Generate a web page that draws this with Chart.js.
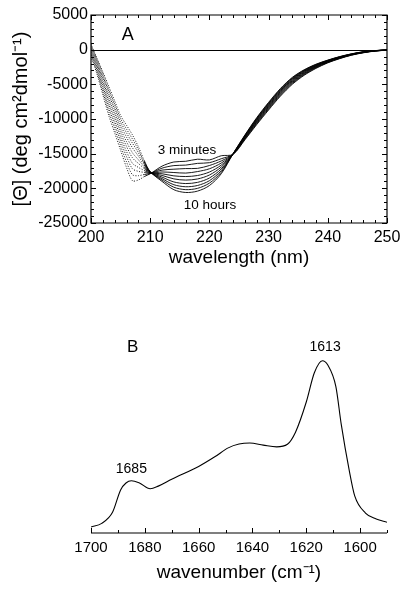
<!DOCTYPE html>
<html lang="en">
<head>
    <meta charset="UTF-8">
    <title>CD and IR spectra</title>
    <script src="https://cdn.jsdelivr.net/npm/chart.js"></script>
    <style>
        body { margin: 0; background: #fff; }
        #wrap { position: relative; width: 407px; height: 589px; }
        #chartA { position: absolute; left: 0; top: 0; }
        #chartB { position: absolute; left: 0; top: 290px; }
    </style>
</head>
<body>
<div id="wrap">
    <canvas id="chartA" width="407" height="290"></canvas>
    <canvas id="chartB" width="407" height="299"></canvas>
</div>
<script>
    // --- panel A: CD spectra, 3 minutes -> 10 hours ---
    const wavelengths = [200, 201, 202, 203, 204, 205, 206, 207, 208, 209, 210, 212, 214, 216, 218, 220, 222, 224,
        226, 228, 230, 232, 234, 236, 238, 240, 242, 244, 246, 248, 250];

    const cd3min = [-1000, -3500, -6500, -9500, -12000, -14500, -17000, -18900, -18800, -18300, -17900, -16800, -16200, -16100, -15800, -15900, -15300, -15100,
        -13000, -10800, -8700, -6700, -5000, -3700, -2700, -1900, -1300, -800, -450, -200, -80];
    const cdT1 = [-770, -3200, -6070, -8950, -11400, -13850, -16200, -18040, -18180, -18000, -17860, -17090, -16720, -16650, -16400, -16300, -15730, -15090,
        -12910, -10670, -8560, -6560, -4870, -3600, -2620, -1850, -1260, -770, -430, -190, -75];
    const cdT2 = [-530, -2900, -5640, -8410, -10800, -13200, -15410, -17180, -17550, -17700, -17820, -17370, -17240, -17150, -17120, -16710, -16050, -15070,
        -12820, -10540, -8410, -6410, -4740, -3490, -2540, -1800, -1220, -750, -410, -180, -67];
    const cdT3 = [-316, -2630, -5250, -7900, -10250, -12600, -14680, -16390, -16980, -17430, -17790, -17640, -17720, -17800, -17580, -17180, -16350, -15060,
        -12730, -10420, -8280, -6280, -4620, -3400, -2470, -1750, -1190, -720, -390, -170, -60];
    const cdT4 = [-100, -2350, -4850, -7400, -9700, -12000, -13950, -15600, -16400, -17150, -17750, -17900, -18200, -18300, -18150, -17650, -16650, -15050,
        -12650, -10300, -8150, -6150, -4500, -3300, -2400, -1700, -1150, -700, -375, -165, -55];
    const cdT5 = [100, -2100, -4490, -6940, -9190, -11450, -13280, -14870, -15870, -16900, -17720, -18140, -18640, -18810, -18650, -18080, -16930, -15040,
        -12570, -10190, -8030, -6030, -4390, -3210, -2330, -1660, -1120, -680, -360, -157, -49];
    const cdT6 = [300, -1840, -4120, -6480, -8690, -10900, -12610, -14150, -15340, -16640, -17680, -18380, -19080, -19310, -19140, -18510, -17200, -15030,
        -12500, -10080, -7910, -5910, -4280, -3120, -2270, -1610, -1080, -660, -340, -150, -44];
    const cdT7 = [480, -1610, -3790, -6060, -8230, -10400, -12000, -13490, -14860, -16410, -17650, -18600, -19480, -19770, -19590, -18900, -17450, -15020,
        -12430, -9980, -7800, -5800, -4180, -3040, -2210, -1570, -1050, -640, -330, -143, -39];
    const cdT8 = [640, -1410, -3500, -5680, -7810, -9950, -11450, -12890, -14430, -16210, -17630, -18800, -19840, -20190, -20000, -19250, -17680, -15010,
        -12360, -9890, -7700, -5700, -4090, -2970, -2150, -1540, -1030, -620, -310, -136, -34];
    const cd10h = [800, -1200, -3200, -5300, -7400, -9500, -10900, -12300, -14000, -16000, -17600, -19000, -20200, -20600, -20400, -19600, -17900, -15000,
        -12300, -9800, -7600, -5600, -4000, -2900, -2100, -1500, -1000, -600, -300, -130, -30];
    const cdCurves = [cd3min, cdT1, cdT2, cdT3, cdT4, cdT5, cdT6, cdT7, cdT8, cd10h];

    const xTicksA = [200, 210, 220, 230, 240, 250];
    const yTicksA = [-25000, -20000, -15000, -10000, -5000, 0, 5000];

    // --- panel B: IR spectrum ---
    const wavenumbers = [1700, 1696, 1692, 1689, 1687, 1685, 1682, 1678, 1675, 1670, 1660, 1654, 1649, 1645, 1641,
        1636, 1631, 1627, 1624, 1620, 1617, 1614, 1612, 1609, 1607, 1604, 1602, 1598, 1594, 1590];
    const absorbance = [0.035, 0.056, 0.12, 0.25, 0.29, 0.303, 0.29, 0.257, 0.272, 0.312, 0.386, 0.442, 0.494, 0.516, 0.522,
        0.51, 0.5, 0.515, 0.585, 0.76, 0.93, 1.0, 0.975, 0.85, 0.63, 0.36, 0.215, 0.116, 0.081, 0.062];
    const xTicksB = [1700, 1680, 1660, 1640, 1620, 1600];

    Chart.defaults.font.family = "'Liberation Sans', Arial, sans-serif";
    Chart.defaults.color = '#000';

    function steps(from, to, step) {
        const out = [];
        for (let v = from; v <= to + 1e-9; v += step) out.push(v);
        return out;
    }

    // inward tick marks + frame, drawn through the chart scales
    const frameTicks = {
        id: 'frameTicks',
        afterDraw(chart, args, o) {
            const ctx = chart.ctx, a = chart.chartArea;
            const xs = chart.scales.x, ys = chart.scales.y;
            ctx.save();
            ctx.strokeStyle = '#000';
            ctx.lineWidth = 1.2;
            ctx.beginPath();
            if (o.box) {
                ctx.rect(a.left, a.top, a.right - a.left, a.bottom - a.top);
            } else {
                ctx.moveTo(a.left, a.bottom);
                ctx.lineTo(a.right, a.bottom);
            }
            ctx.stroke();
            ctx.lineWidth = 1;
            ctx.beginPath();
            (o.xMinor || []).forEach(v => {
                const px = Math.round(xs.getPixelForValue(v)) + 0.5;
                const len = (o.xMajor.includes(v) ? 5 : 3);
                ctx.moveTo(px, a.bottom);
                ctx.lineTo(px, a.bottom - len);
                if (o.box) {
                    ctx.moveTo(px, a.top);
                    ctx.lineTo(px, a.top + len);
                }
            });
            (o.yMinor || []).forEach(v => {
                const py = Math.round(ys.getPixelForValue(v)) + 0.5;
                const len = (o.yMajor.includes(v) ? 5 : 3);
                ctx.moveTo(a.left, py);
                ctx.lineTo(a.left + len, py);
                ctx.moveTo(a.right, py);
                ctx.lineTo(a.right - len, py);
            });
            if (o.zeroLine) {
                const py = Math.round(ys.getPixelForValue(0)) + 0.5;
                ctx.moveTo(a.left, py);
                ctx.lineTo(a.right, py);
            }
            ctx.stroke();
            ctx.restore();
        }
    };

    // text placed in data units
    const notes = {
        id: 'notes',
        afterDraw(chart, args, o) {
            const ctx = chart.ctx;
            ctx.save();
            ctx.fillStyle = '#000';
            ctx.textAlign = 'center';
            ctx.textBaseline = 'middle';
            (o.items || []).forEach(it => {
                ctx.font = it.size + "px 'Liberation Sans', Arial, sans-serif";
                ctx.fillText(it.text, chart.scales.x.getPixelForValue(it.x), chart.scales.y.getPixelForValue(it.y));
            });
            ctx.restore();
        }
    };

    new Chart(document.getElementById('chartA'), {
        type: 'line',
        data: {
            datasets: cdCurves.map(c => ({
                data: wavelengths.map((w, i) => ({ x: w, y: c[i] })),
                borderColor: '#000',
                borderWidth: 0.9,
                pointRadius: 0,
                tension: 0.3,
                fill: false,
                segment: {
                    borderDash: s => (s.p1.parsed.x <= 209 ? [1, 1.6] : undefined)
                }
            }))
        },
        options: {
            responsive: false,
            animation: false,
            devicePixelRatio: 1,
            layout: { padding: { top: 15, right: 20, left: 0, bottom: 0 } },
            plugins: {
                legend: { display: false },
                tooltip: { enabled: false },
                frameTicks: { box: true, zeroLine: true, xMajor: xTicksA, xMinor: steps(200, 250, 2), yMajor: yTicksA, yMinor: steps(-25000, 5000, 1000) },
                notes: {
                    items: [
                        { text: 'A', x: 206.2, y: 2050, size: 18 },
                        { text: '3 minutes', x: 216.2, y: -14500, size: 13.5 },
                        { text: '10 hours', x: 220.1, y: -22400, size: 13.5 }
                    ]
                }
            },
            scales: {
                x: {
                    type: 'linear',
                    min: 200,
                    max: 250,
                    afterBuildTicks: s => { s.ticks = xTicksA.map(v => ({ value: v })); },
                    afterFit: s => { s.height = 67; },
                    grid: { display: false, drawTicks: false },
                    border: { display: false },
                    ticks: { font: { size: 16 }, padding: 5, maxRotation: 0, callback: v => String(v) },
                    title: { display: true, text: 'wavelength (nm)', font: { size: 19 }, padding: { top: 0, bottom: 21 } }
                },
                y: {
                    min: -25000,
                    max: 5000,
                    afterBuildTicks: s => { s.ticks = yTicksA.map(v => ({ value: v })); },
                    afterFit: s => { s.width = 91; },
                    grid: { display: false, drawTicks: false },
                    border: { display: false },
                    ticks: { font: { size: 16 }, padding: 3, callback: v => String(v) },
                    title: { display: true, text: '[\u0398] (deg cm\u00B2dmol\u207B\u00B9)', font: { size: 20 }, padding: { top: 9, bottom: 0 } }
                }
            }
        },
        plugins: [frameTicks, notes]
    });

    new Chart(document.getElementById('chartB'), {
        type: 'line',
        data: {
            datasets: [{
                data: wavenumbers.map((w, i) => ({ x: w, y: absorbance[i] })),
                borderColor: '#000',
                borderWidth: 1.1,
                pointRadius: 0,
                tension: 0.4,
                cubicInterpolationMode: 'monotone',
                fill: false
            }]
        },
        options: {
            responsive: false,
            animation: false,
            devicePixelRatio: 1,
            layout: { padding: { top: 50, right: 20, left: 91, bottom: 0 } },
            plugins: {
                legend: { display: false },
                tooltip: { enabled: false },
                frameTicks: { box: false, xMajor: xTicksB, xMinor: steps(1590, 1700, 10) },
                notes: {
                    items: [
                        { text: 'B', x: 1684.5, y: 1.075, size: 17 },
                        { text: '1613', x: 1613, y: 1.08, size: 14 },
                        { text: '1685', x: 1685, y: 0.37, size: 14 }
                    ]
                }
            },
            scales: {
                x: {
                    type: 'linear',
                    reverse: true,
                    min: 1590,
                    max: 1700,
                    afterBuildTicks: s => { s.ticks = xTicksB.map(v => ({ value: v })); },
                    afterFit: s => { s.height = 56; },
                    grid: { display: false, drawTicks: false },
                    border: { display: false },
                    ticks: { font: { size: 15 }, padding: 6, maxRotation: 0, callback: v => String(v) },
                    title: { display: true, text: 'wavenumber (cm\u207B\u00B9)', font: { size: 19 }, padding: { top: 0, bottom: 5 } }
                },
                y: {
                    display: false,
                    min: 0,
                    max: 1.12
                }
            }
        },
        plugins: [frameTicks, notes]
    });
</script>
</body>
</html>
